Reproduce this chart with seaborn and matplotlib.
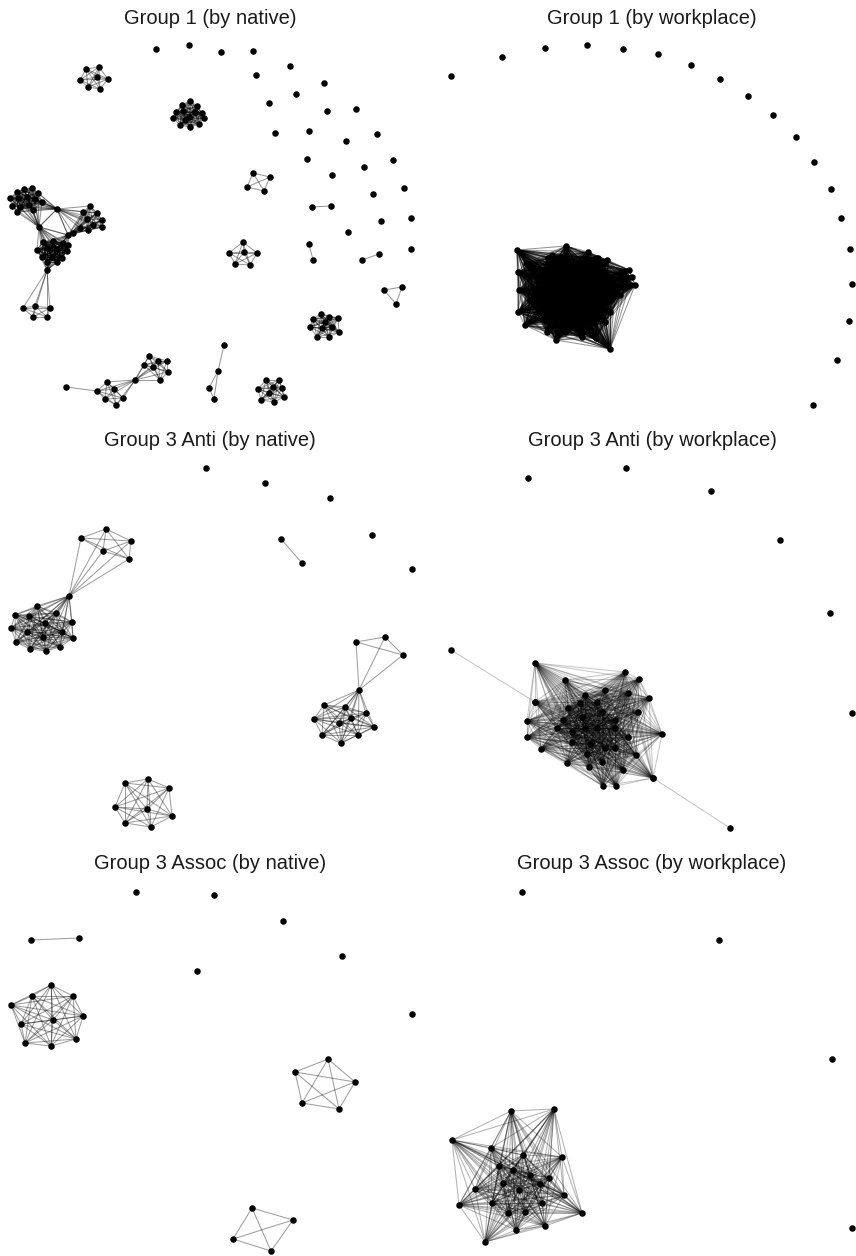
import matplotlib
matplotlib.use("Agg")
import matplotlib.pyplot as plt
from matplotlib.collections import LineCollection
import seaborn as sns
from itertools import combinations

sns.set_theme(style="white")
plt.rcParams['font.family'] = ['Liberation Sans', 'DejaVu Sans']

# ---------------- DATA (node positions in picture pixels) ----------------
TITLES = ["Group 1 (by native)", "Group 1 (by workplace)",
          "Group 3 Anti (by native)", "Group 3 Anti (by workplace)",
          "Group 3 Assoc (by native)", "Group 3 Assoc (by workplace)"]

# ---- Panel 1: Group 1 (by native)
g1n_iso_x = [156, 189, 221, 253, 290, 256, 324, 296, 269, 327, 356, 275, 309, 377, 346, 307, 393, 364, 332, 404, 373, 348, 381, 411, 411]
g1n_iso_y = [49, 45, 52, 51, 66, 75, 83, 94, 103, 111, 109, 133, 131, 134, 141, 159, 160, 167, 175, 188, 194, 232, 221, 218, 249]
g1n_pair1_x = [312, 331]; g1n_pair1_y = [207, 206]
g1n_pair2_x = [309, 313]; g1n_pair2_y = [244, 260]
g1n_pair3_x = [362, 379]; g1n_pair3_y = [260, 254]
g1n_tri_x = [384, 402, 396]; g1n_tri_y = [290, 287, 304]
g1n_c7_x = [86, 99, 80, 97, 108, 88, 100]
g1n_c7_y = [69, 67, 80, 77, 79, 87, 89]
g1n_c14_x = [182, 190, 197, 176, 202, 173, 189, 204, 180, 190, 199, 183, 195, 185]
g1n_c14_y = [105, 101, 106, 112, 113, 118, 117, 118, 125, 127, 124, 111, 112, 120]
g1n_quad_x = [253, 270, 247, 264]; g1n_quad_y = [173, 177, 187, 191]
g1n_c6_x = [243, 229, 244, 257, 235, 250]; g1n_c6_y = [242, 253, 252, 253, 264, 265]
g1n_c11_x = [321, 329, 313, 338, 310, 322, 332, 339, 317, 329, 325]
g1n_c11_y = [314, 317, 319, 318, 327, 328, 327, 332, 337, 337, 322]
g1n_chain_x = [224, 218, 209, 214]; g1n_chain_y = [345, 371, 388, 399]
g1n_chain_edges = [(0, 1), (1, 2), (1, 3), (2, 3)]
g1n_c9_x = [266, 279, 258, 282, 269, 261, 274, 284, 273]
g1n_c9_y = [380, 380, 389, 388, 393, 400, 402, 397, 387]
g1n_bow_x = [66, 107, 97, 114, 105, 116, 123, 135, 149, 158, 167, 144, 153, 168, 160]
g1n_bow_y = [387, 382, 391, 389, 399, 405, 398, 380, 356, 361, 361, 365, 367, 372, 380]
g1n_bow_cliques = [list(range(1, 8)), list(range(7, 15))]
g1n_bow_edges = [(0, 2)]
g1n_big_x = [17, 24, 32, 38, 10, 18, 27, 35, 42, 12, 20, 29, 17, 33,
             57, 39, 68,
             90, 83, 97, 102, 87, 93, 102, 80, 73, 88,
             43, 53, 63, 37, 47, 57, 67, 42, 52, 62, 47, 57, 68,
             47,
             23, 35, 50, 33, 47]
g1n_big_y = [192, 189, 188, 193, 198, 198, 197, 199, 202, 206, 207, 205, 212, 210,
             209, 227, 235,
             206, 212, 213, 220, 219, 225, 227, 228, 233, 230,
             242, 241, 243, 250, 248, 249, 251, 257, 257, 258, 262, 262, 245,
             270,
             308, 306, 308, 317, 317]
g1n_big_cliques = [list(range(0, 14)) + [14, 15],
                   list(range(17, 27)) + [14, 16],
                   list(range(27, 40)) + [15, 16],
                   [14, 15, 16],
                   list(range(27, 40)) + [40],
                   list(range(40, 46))]

# ---- Panel 2: Group 1 (by workplace)
g1w_iso_x = [451, 502, 545, 587, 623, 658, 691, 720, 748, 773, 796, 814, 831, 841, 850, 852, 849, 837, 813]
g1w_iso_y = [76, 57, 48, 45, 49, 54, 65, 79, 96, 115, 137, 162, 189, 218, 249, 284, 321, 360, 405]
g1w_hub_x = [517, 566, 552, 588, 607, 629, 632, 635, 518, 526, 519, 518, 525, 547, 556, 582, 596, 610, 565, 561, 596, 530, 610, 615,
             545, 560, 575, 590, 605, 540, 555, 570, 585, 600, 612, 535, 550, 565, 580, 595, 610, 540, 555, 570, 585, 600,
             545, 560, 575, 590, 605, 565, 580, 530, 620, 548, 598,
             558, 568, 578, 588, 562, 572, 582, 592, 556, 566, 576, 586, 570, 580, 550, 600]
g1w_hub_y = [250, 246, 255, 252, 260, 270, 277, 285, 272, 263, 290, 312, 325, 332, 340, 337, 338, 349, 332, 257, 258, 300, 312, 295,
             270, 265, 263, 268, 272, 282, 280, 278, 280, 284, 288, 295, 293, 292, 294, 296, 300, 308, 306, 305, 307, 310,
             320, 318, 318, 320, 322, 330, 330, 300, 295, 258, 258,
             286, 285, 286, 288, 297, 298, 299, 300, 312, 311, 312, 313, 290, 303, 300, 292]

# ---- Panel 3: Group 3 Anti (by native)
g3an_iso_x = [206, 265, 330, 372, 412]
g3an_iso_y = [468, 483, 498, 535, 569]
g3an_pair_x = [281, 302]; g3an_pair_y = [539, 563]
g3an_left_x = [81, 106, 131, 103, 129, 69,
               37, 15, 29, 56, 45, 72, 11, 27, 43, 62, 16, 73, 30, 46, 60]
g3an_left_y = [538, 529, 541, 551, 559, 596,
               606, 615, 616, 613, 623, 622, 628, 632, 637, 632, 642, 638, 649, 651, 647]
g3an_left_cliques = [list(range(0, 6)), list(range(5, 21))]
g3an_right_x = [356, 385, 403, 359, 324, 345, 366, 314, 339, 351, 374, 322, 358, 341]
g3an_right_y = [642, 637, 655, 690, 705, 707, 713, 719, 723, 718, 727, 735, 735, 743]
g3an_right_cliques = [list(range(0, 4)), list(range(3, 14))]
g3an_c8_x = [125, 148, 169, 115, 147, 172, 125, 151]
g3an_c8_y = [783, 779, 788, 807, 809, 816, 823, 827]

# ---- Panel 4: Group 3 Anti (by workplace)
g3aw_iso_x = [528, 626, 711, 780, 830, 852]
g3aw_iso_y = [478, 468, 491, 540, 613, 713]
g3aw_hub_x = [535, 565, 625, 639, 649, 535, 585, 605, 628, 638, 527, 527, 662, 541, 567, 589, 602, 623, 636, 653, 603, 616,
              568, 580, 597, 563, 582, 602, 615, 557, 572, 585, 597, 615, 628, 572, 590, 605, 587, 615]
g3aw_hub_y = [663, 680, 672, 679, 698, 702, 695, 690, 693, 712, 721, 737, 734, 749, 763, 767, 762, 770, 755, 778, 786, 786,
              708, 703, 702, 720, 717, 712, 720, 728, 732, 728, 728, 728, 737, 742, 744, 748, 754, 748]
g3aw_pend_x = [451, 730]; g3aw_pend_y = [650, 828]

# ---- Panel 5: Group 3 Assoc (by native)
g3sn_iso_x = [136, 214, 283, 342, 197, 412]
g3sn_iso_y = [892, 895, 921, 956, 971, 1014]
g3sn_pair_x = [31, 79]; g3sn_pair_y = [940, 938]
g3sn_c10_x = [51, 32, 73, 11, 83, 53, 21, 76, 25, 51]
g3sn_c10_y = [985, 996, 996, 1005, 1016, 1020, 1024, 1039, 1043, 1046]
g3sn_k5_x = [328, 295, 355, 302, 339]; g3sn_k5_y = [1059, 1072, 1082, 1103, 1109]
g3sn_k4_x = [252, 293, 233, 271]; g3sn_k4_y = [1208, 1220, 1239, 1251]

# ---- Panel 6: Group 3 Assoc (by workplace)
g3sw_iso_x = [522, 719, 832, 852]
g3sw_iso_y = [892, 940, 1059, 1228]
g3sw_c24_x = [511, 554, 452, 491, 523, 562, 499, 513, 530, 549, 475, 503, 519, 459, 492, 508, 525, 542, 564, 582, 516, 545, 485, 540]
g3sw_c24_y = [1111, 1109, 1140, 1148, 1155, 1157, 1166, 1170, 1175, 1178, 1189, 1183, 1190, 1205, 1203, 1213, 1212, 1203, 1195, 1213, 1230, 1226, 1242, 1184]

# ---------------- LAYOUT / STYLE ----------------
W, H = 856, 1256
COLS = [(0, 428), (428, 856)]
ROWS = [(0, 420), (420, 840), (840, 1256)]
TITLE_POS = [(210, 17), (652, 17), (210, 440), (652, 440), (210, 863), (652, 863)]
EDGE_ALPHA = [0.4, 0.42, 0.38, 0.22, 0.38, 0.3]


def comp(xs, ys, cliques="all", edges=()):
    segs = []
    if cliques == "all":
        cliques = [list(range(len(xs)))]
    for cl in cliques or []:
        for a, b in combinations(cl, 2):
            segs.append([(xs[a], ys[a]), (xs[b], ys[b])])
    for a, b in edges:
        segs.append([(xs[a], ys[a]), (xs[b], ys[b])])
    return list(xs), list(ys), segs


PANELS = [
    [comp(g1n_iso_x, g1n_iso_y, None), comp(g1n_pair1_x, g1n_pair1_y), comp(g1n_pair2_x, g1n_pair2_y),
     comp(g1n_pair3_x, g1n_pair3_y), comp(g1n_tri_x, g1n_tri_y), comp(g1n_c7_x, g1n_c7_y),
     comp(g1n_c14_x, g1n_c14_y), comp(g1n_quad_x, g1n_quad_y), comp(g1n_c6_x, g1n_c6_y),
     comp(g1n_c11_x, g1n_c11_y), comp(g1n_chain_x, g1n_chain_y, None, g1n_chain_edges),
     comp(g1n_c9_x, g1n_c9_y), comp(g1n_bow_x, g1n_bow_y, g1n_bow_cliques, g1n_bow_edges),
     comp(g1n_big_x, g1n_big_y, g1n_big_cliques)],
    [comp(g1w_iso_x, g1w_iso_y, None), comp(g1w_hub_x, g1w_hub_y)],
    [comp(g3an_iso_x, g3an_iso_y, None), comp(g3an_pair_x, g3an_pair_y),
     comp(g3an_left_x, g3an_left_y, g3an_left_cliques), comp(g3an_right_x, g3an_right_y, g3an_right_cliques),
     comp(g3an_c8_x, g3an_c8_y)],
    [comp(g3aw_iso_x, g3aw_iso_y, None), comp(g3aw_hub_x, g3aw_hub_y),
     comp([g3aw_pend_x[0], g3aw_hub_x[5]], [g3aw_pend_y[0], g3aw_hub_y[5]]),
     comp([g3aw_pend_x[1], g3aw_hub_x[19]], [g3aw_pend_y[1], g3aw_hub_y[19]])],
    [comp(g3sn_iso_x, g3sn_iso_y, None), comp(g3sn_pair_x, g3sn_pair_y), comp(g3sn_c10_x, g3sn_c10_y),
     comp(g3sn_k5_x, g3sn_k5_y), comp(g3sn_k4_x, g3sn_k4_y)],
    [comp(g3sw_iso_x, g3sw_iso_y, None), comp(g3sw_c24_x, g3sw_c24_y)],
]

fig = plt.figure(figsize=(W / 100, H / 100), dpi=100)
fig.patch.set_facecolor("white")

for i, comps in enumerate(PANELS):
    r, c = divmod(i, 2)
    x0, x1 = COLS[c]
    y0, y1 = ROWS[r]
    ax = fig.add_axes([x0 / W, 1 - y1 / H, (x1 - x0) / W, (y1 - y0) / H])
    ax.set_xlim(x0, x1)
    ax.set_ylim(y1, y0)
    ax.set_axis_off()
    xs_all, ys_all, segs_all = [], [], []
    for xs, ys, segs in comps:
        xs_all += xs
        ys_all += ys
        segs_all += segs
    lc = LineCollection(segs_all, colors="black", linewidths=0.75, alpha=EDGE_ALPHA[i], zorder=1)
    lc.set_clip_on(False)
    ax.add_collection(lc)
    sns.scatterplot(x=xs_all, y=ys_all, ax=ax, color="black", s=22, linewidth=0,
                    zorder=3, legend=False, clip_on=False)
    tx, ty = TITLE_POS[i]
    ax.text(tx, ty + 1, TITLES[i], ha="center", va="center", fontsize=14.5, color="#1a1a1a")

fig.savefig("out.png", dpi=100, facecolor="white")
